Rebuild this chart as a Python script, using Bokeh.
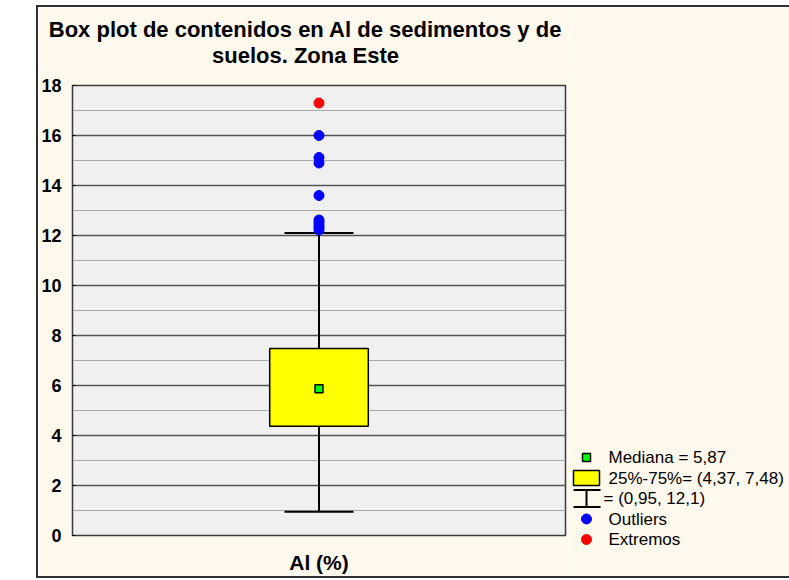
from bokeh.plotting import figure
from bokeh.models import Range1d, FixedTicker, SingleIntervalTicker, ColumnDataSource, Spacer
from bokeh.layouts import row, column
from bokeh.embed import file_html
from bokeh.resources import INLINE
from bokeh.core.properties import value

# ---------------- data ----------------
title_lines = ["Box plot de contenidos en Al de sedimentos y de", "suelos. Zona Este"]
categories = ["Al (%)"]
median = [5.87]
q1 = [4.37]
q3 = [7.48]
whisk_low = [0.95]
whisk_high = [12.1]
outliers = [16.0, 15.12, 14.9, 13.6, 12.62, 12.52, 12.42, 12.32, 12.22]
extremes = [17.3]
y_ticks_interval = 2


def fmt(v):
    return f"{v:g}".replace(".", ",")


legend_labels = [
    f"Mediana = {fmt(median[0])}",
    f"25%-75%= ({fmt(q1[0])}, {fmt(q3[0])})",
    f"= ({fmt(whisk_low[0])}, {fmt(whisk_high[0])})",
    "Outliers",
    "Extremos",
]

# ---------------- style ----------------
FONT = "Liberation Sans"
CREAM = "#FFF8EC"
PLOT_BG = "#F0F0F0"
BORDER = "#303030"
BLUE = "#0000FF"
RED = "#FF0000"
GREEN = "#00FF00"
YELLOW = "#FFFF00"

A_W, FULL_H = 532, 569
T_H = 62
A_H = FULL_H - T_H
B_W = 219
BOX_W = 0.2
CAP_W = 0.14

# ---------------- title strip ----------------
t = figure(width=A_W, height=T_H, x_range=Range1d(0, A_W), y_range=Range1d(T_H, 0),
           x_axis_type=None, y_axis_type=None, output_backend="svg",
           toolbar_location=None, tools="", min_border=0, title=None)
t.frame_align = False
t.background_fill_color = CREAM
t.border_fill_color = CREAM
t.outline_line_color = None
TITLE_CX = 267
TITLE_MID = [22, 48]
t.text(x=[TITLE_CX] * len(title_lines), y=TITLE_MID, text=title_lines,
       text_font=value(FONT), text_font_style="bold", text_font_size="22px",
       text_align="center", text_baseline="middle", text_color="black")

# ---------------- main plot ----------------
p = figure(width=A_W, height=A_H, x_range=Range1d(0, 1), y_range=Range1d(0, 18),
           output_backend="svg", toolbar_location=None, tools="", title=None,
           min_border_left=34, min_border_right=5, min_border_top=16, min_border_bottom=39)
p.frame_align = False
p.background_fill_color = PLOT_BG
p.border_fill_color = CREAM
p.outline_line_color = "#3a3a3a"
p.outline_line_width = 1.5

xs = [i + 0.5 for i in range(len(categories))]

# axes
p.xaxis.ticker = FixedTicker(ticks=xs)
p.xaxis.major_label_overrides = {x: c for x, c in zip(xs, categories)}
p.xaxis.major_label_text_font = FONT
p.xaxis.major_label_text_font_style = "bold"
p.xaxis.major_label_text_font_size = "21px"
p.xaxis.major_label_text_color = "black"
p.xaxis.major_label_standoff = 9
p.xaxis.axis_line_color = None
p.xaxis.major_tick_line_color = None
p.xaxis.minor_tick_line_color = None

p.yaxis.ticker = SingleIntervalTicker(interval=y_ticks_interval, num_minor_ticks=2)
p.yaxis.major_label_text_font = FONT
p.yaxis.major_label_text_font_style = "bold"
p.yaxis.major_label_text_font_size = "18px"
p.yaxis.major_label_text_color = "black"
p.yaxis.major_label_standoff = 7
p.yaxis.major_tick_out = 0
p.yaxis.major_tick_in = 3
p.yaxis.major_tick_line_color = "black"
p.yaxis.minor_tick_line_color = None
p.yaxis.axis_line_color = "#3a3a3a"

p.xgrid.grid_line_color = None
p.ygrid.grid_line_color = "#555555"
p.ygrid.grid_line_width = 1.3
p.ygrid.minor_grid_line_color = "#A8A8A8"
p.ygrid.minor_grid_line_width = 1

src = ColumnDataSource(dict(x=xs, q1=q1, q3=q3, med=median, lo=whisk_low, hi=whisk_high,
                            l=[x - BOX_W / 2 for x in xs], r=[x + BOX_W / 2 for x in xs],
                            cl=[x - CAP_W / 2 for x in xs], cr=[x + CAP_W / 2 for x in xs]))

# whiskers
p.segment(x0="x", y0="lo", x1="x", y1="q1", source=src, line_color="black", line_width=2)
p.segment(x0="x", y0="q3", x1="x", y1="hi", source=src, line_color="black", line_width=2)
p.segment(x0="cl", y0="lo", x1="cr", y1="lo", source=src, line_color="black", line_width=2)
p.segment(x0="cl", y0="hi", x1="cr", y1="hi", source=src, line_color="black", line_width=2)
# box
p.quad(left="l", right="r", bottom="q1", top="q3", source=src,
       fill_color=YELLOW, line_color="black", line_width=1.5)
# median
p.scatter(x="x", y="med", source=src, marker="square", size=8,
          fill_color=GREEN, line_color="black", line_width=1.5)
# outliers / extremes
p.scatter(x=[xs[0]] * len(outliers), y=outliers, size=10, fill_color=BLUE, line_color=BLUE)
p.scatter(x=[xs[0]] * len(extremes), y=extremes, size=10, fill_color=RED, line_color=RED)

# ---------------- legend panel ----------------
q = figure(width=B_W, height=FULL_H, x_range=Range1d(0, B_W), y_range=Range1d(FULL_H, 0),
           x_axis_type=None, y_axis_type=None, output_backend="svg",
           toolbar_location=None, tools="", min_border=0, title=None)
q.frame_align = False
q.background_fill_color = CREAM
q.border_fill_color = CREAM
q.outline_line_color = None

LEG_Y0 = 450
LEG_DY = 20.5
ICON_X = 16
ICON_HW = 13
TEXT_X = 38
rows_y = [LEG_Y0 + i * LEG_DY for i in range(len(legend_labels))]

q.scatter(x=[ICON_X], y=[rows_y[0]], marker="square", size=8,
          fill_color=GREEN, line_color="black", line_width=1.5)
q.quad(left=[ICON_X - ICON_HW], right=[ICON_X + ICON_HW],
       top=[rows_y[1] - 7.5], bottom=[rows_y[1] + 7.5],
       fill_color=YELLOW, line_color="black", line_width=1.5)
wy = rows_y[2]
q.segment(x0=[ICON_X - ICON_HW, ICON_X - ICON_HW, ICON_X], y0=[wy - 8.5, wy + 8.5, wy - 8.5],
          x1=[ICON_X + ICON_HW + 1, ICON_X + ICON_HW + 1, ICON_X], y1=[wy - 8.5, wy + 8.5, wy + 8.5],
          line_color="black", line_width=2)
q.scatter(x=[ICON_X], y=[rows_y[3]], size=10, fill_color=BLUE, line_color=BLUE)
q.scatter(x=[ICON_X], y=[rows_y[4]], size=10, fill_color=RED, line_color=RED)

text_x = [TEXT_X, TEXT_X, TEXT_X - 5, TEXT_X, TEXT_X]
q.text(x=text_x, y=rows_y, text=legend_labels, text_font=value(FONT), text_font_size="17px",
       text_baseline="middle", text_align="left", text_color="black")

frame_css = {"border-left": f"2px solid {BORDER}", "border-top": f"2px solid {BORDER}",
             "border-bottom": f"2px solid {BORDER}"}
inner = row(column(t, p), q, styles=frame_css)
layout = column(Spacer(width=10, height=5), row(Spacer(width=36, height=FULL_H), inner))

open("out.html", "w").write(file_html(layout, INLINE))
